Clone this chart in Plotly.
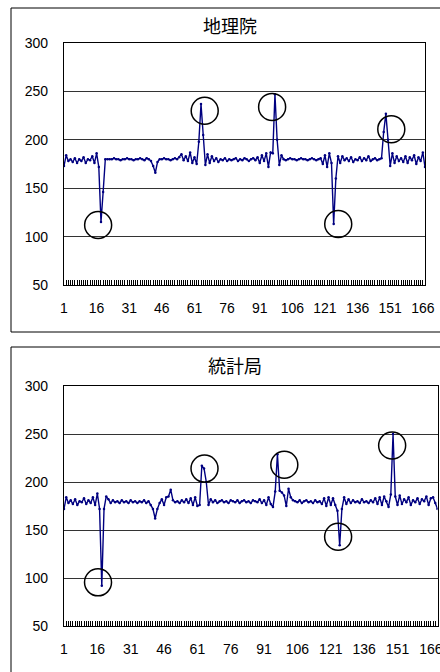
import plotly.graph_objects as go
from plotly.subplots import make_subplots

# ---- data ----
titles = ["地理院", "統計局"]

gsi_values = [
    173, 184, 178, 180, 177, 181, 176, 180, 178, 182, 176, 180, 179, 183, 176,
    186, 172, 115, 146, 180,
    180, 180, 180, 181, 180, 180, 179, 180, 180, 181, 180, 180, 179, 180, 180, 181, 180, 179, 181, 180, 178,
    173, 166, 177,
    180, 180, 181, 180, 180, 179, 180, 181, 180, 182,
    185, 179, 183, 178, 187, 176, 182, 175,
    198, 237, 205, 174, 185,
    176, 183, 178, 181, 177, 180, 179, 181, 178, 180, 179, 180, 181, 178, 180, 179, 181, 180, 178, 180, 181, 179, 182, 176, 184, 178, 186,
    172, 187, 186, 247, 200, 174, 184,
    180, 179, 180, 181, 180, 180, 179, 180, 181, 180, 180, 179, 180, 181, 180, 179, 180, 181,
    175, 184, 172, 186, 176, 113, 160, 183,
    176, 183, 179, 181, 178, 182, 177, 180, 179, 182, 178, 181, 179, 183, 178, 180, 181, 179, 180, 181,
    208, 227, 200, 173,
    186, 176, 183, 178, 181, 177, 183, 176, 182, 179, 184, 175, 182, 178, 187, 172,
]

stat_values = [
    172, 184, 178, 181, 177, 182, 176, 180, 179, 183, 177, 181, 178, 184, 176,
    188, 172, 92, 172, 185,
    182, 178, 181, 179, 180, 178, 181, 179, 180, 178, 181, 179, 180, 178, 180, 179, 181, 178, 180, 176,
    172, 162, 172, 178,
    182, 176, 184, 185, 192, 181, 179,
    180, 178, 181, 179, 182, 178, 183, 176, 184, 175,
    176, 217, 214, 200, 176,
    182, 179, 181, 178, 180, 181, 179, 180, 178, 181, 180, 179, 181, 178, 180, 181, 179, 180, 178, 181, 180, 179, 182, 178, 181, 176, 184, 177,
    174, 190, 229, 191, 189, 186, 175, 193, 184, 181,
    180, 179, 181, 178, 180, 181, 179, 180, 178, 181, 179, 180, 177, 183, 175, 184, 176,
    183, 176, 170, 134, 172,
    184, 177, 182, 178, 181, 179, 180, 178, 182, 179, 180, 178, 181, 179, 183, 177, 184, 176, 185, 180,
    174, 187, 250, 185, 176,
    186, 177, 182, 179, 184, 176, 181, 179, 183, 177, 182, 180, 185, 176, 183, 184, 178, 172,
]

gsi_circle_x = [16.7, 65.7, 96.7, 127.1, 151.5]
gsi_circle_y = [112, 230, 234, 113, 211]
stat_circle_x = [16.3, 64.2, 100.1, 124.3, 148.6]
stat_circle_y = [95.5, 214, 218, 143, 238]

x_tick_vals = [1, 16, 31, 46, 61, 76, 91, 106, 121, 136, 151, 166]
x_tick_text = ["1", "16", "31", "46", "61", "76", "91", "106", "121", "136", "151", "166"]
y_tick_vals = [50, 100, 150, 200, 250, 300]

# ---- figure ----
W, H = 440, 672
fig = make_subplots(rows=2, cols=1)

series = [gsi_values, stat_values]
circles = [(gsi_circle_x, gsi_circle_y), (stat_circle_x, stat_circle_y)]
for i, vals in enumerate(series):
    row = i + 1
    xs = list(range(1, len(vals) + 1))
    fig.add_trace(go.Scatter(
        x=xs, y=vals, mode="lines+markers",
        line=dict(color="#000080", width=1.4),
        marker=dict(size=2.5, color="#000080"),
        showlegend=False, hoverinfo="skip"), row=row, col=1)
    cx, cy = circles[i]
    fig.add_trace(go.Scatter(
        x=cx, y=cy, mode="markers",
        marker=dict(symbol="circle-open", size=27, color="black", line=dict(width=1.5, color="black")),
        showlegend=False, hoverinfo="skip", cliponaxis=False), row=row, col=1)

font_num = dict(family="Liberation Sans, Arial, sans-serif", size=14, color="black")

domains_x = [[64 / W, 425 / W], [64 / W, 437.5 / W]]
domains_y = [[1 - 285 / H, 1 - 43 / H], [1 - 626 / H, 1 - 386 / H]]
n_points = [len(gsi_values), len(stat_values)]

for i in range(2):
    xa = "xaxis" if i == 0 else "xaxis2"
    ya = "yaxis" if i == 0 else "yaxis2"
    fig.layout[xa].update(
        domain=domains_x[i], range=[1, n_points[i]],
        tickvals=x_tick_vals, ticktext=x_tick_text,
        ticks="inside", ticklen=5, tickcolor="black", tickwidth=1,
        minor=dict(dtick=1, tick0=1, ticks="inside", ticklen=5, tickcolor="black", tickwidth=1, showgrid=False),
        showgrid=False, zeroline=False, automargin=False,
        showline=True, linecolor="black", linewidth=1.2, mirror=True,
        tickfont=font_num, ticklabelstandoff=10, ticklabeloverflow="allow")
    fig.layout[ya].update(
        domain=domains_y[i], range=[50, 300],
        tickvals=y_tick_vals, ticks="",
        showgrid=True, gridcolor="#333333", gridwidth=1,
        zeroline=False, automargin=False,
        showline=True, linecolor="black", linewidth=1.2, mirror=True,
        tickfont=font_num, ticklabelstandoff=12)

# titles
title_pos = [(230 / W, 1 - 25 / H), (235 / W, 1 - 365 / H)]
for t, (tx, ty) in zip(titles, title_pos):
    fig.add_annotation(text=t, x=tx, y=ty, xref="paper", yref="paper",
                       showarrow=False, xanchor="center", yanchor="middle",
                       font=dict(family="Noto Sans CJK JP, sans-serif", size=18, color="black"))

# panel frames (left, top, bottom edges; right edge lies outside the view)
frame_line = dict(color="black", width=1)
for (top, bottom) in [(8, 332), (347, None)]:
    yt = 1 - top / H
    yb = 0 if bottom is None else 1 - bottom / H
    fig.add_shape(type="line", xref="paper", yref="paper", x0=11 / W, x1=11 / W, y0=yb, y1=yt, line=frame_line)
    fig.add_shape(type="line", xref="paper", yref="paper", x0=11 / W, x1=1, y0=yt, y1=yt, line=frame_line)
    if bottom is not None:
        fig.add_shape(type="line", xref="paper", yref="paper", x0=11 / W, x1=1, y0=yb, y1=yb, line=frame_line)

fig.update_layout(
    width=W, height=H, autosize=False,
    margin=dict(l=0, r=0, t=0, b=0, pad=0, autoexpand=False),
    paper_bgcolor="white", plot_bgcolor="white",
    showlegend=False,
)

fig.write_html("out.html", config={"responsive": False})
